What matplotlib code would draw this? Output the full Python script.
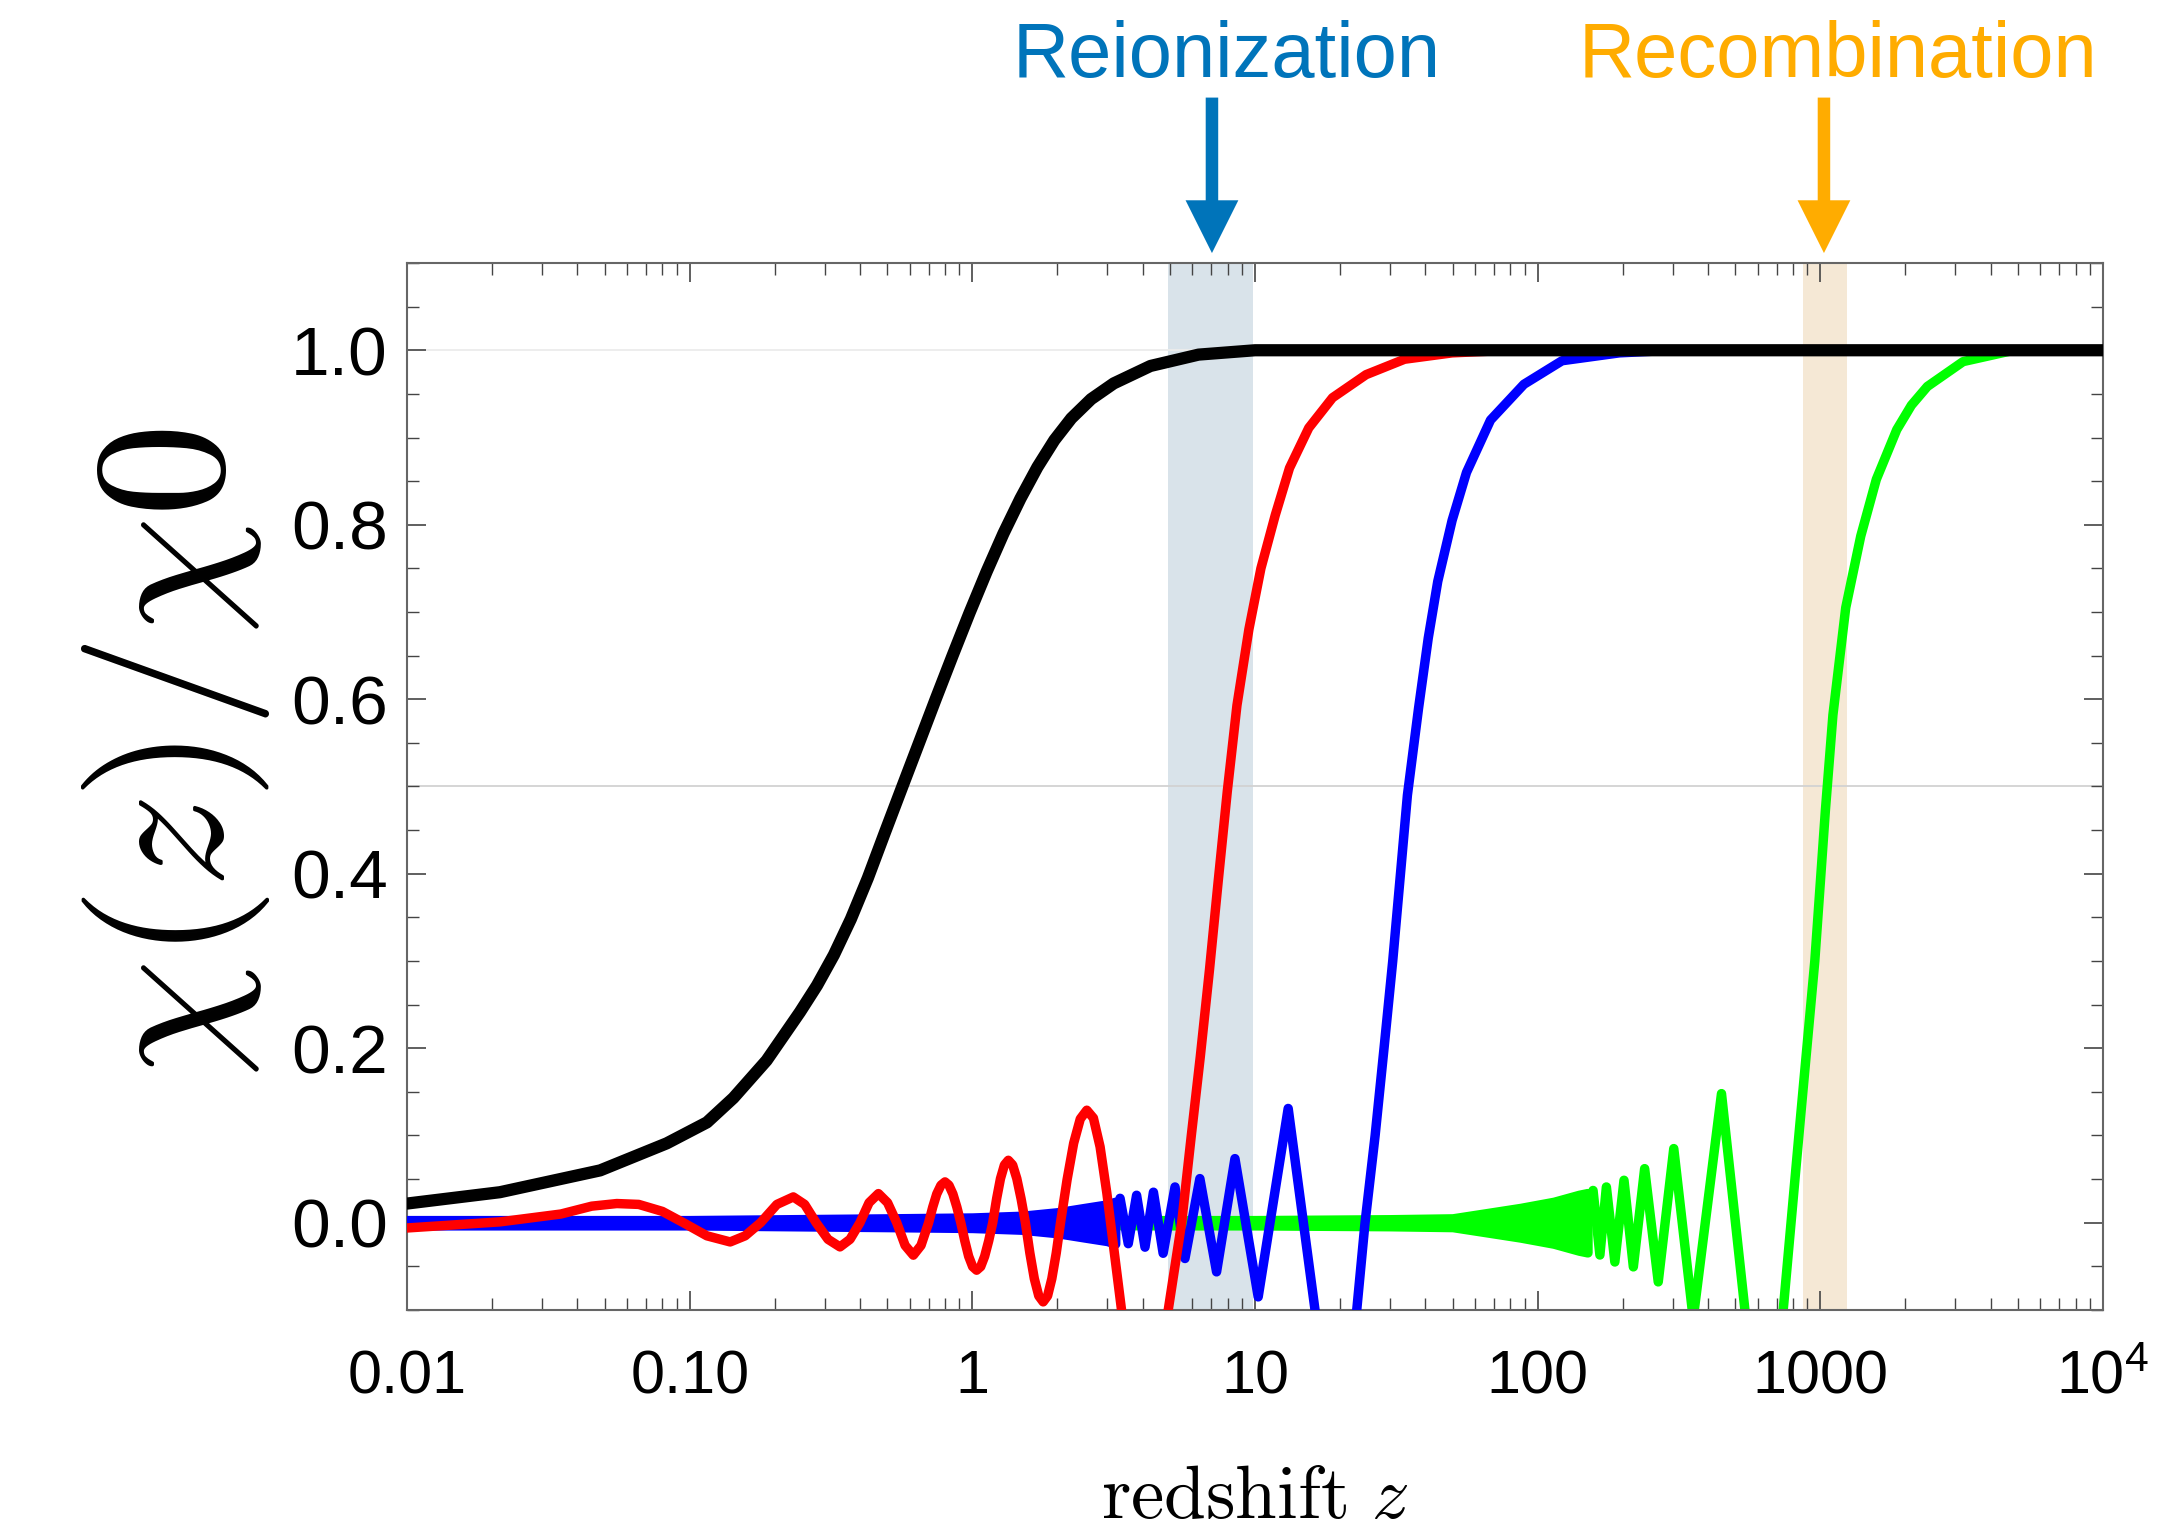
import matplotlib
matplotlib.use('Agg')
import matplotlib.pyplot as plt
from matplotlib.ticker import LogLocator, NullFormatter, MultipleLocator

plt.rcParams['font.family'] = ['Liberation Sans', 'DejaVu Sans']
plt.rcParams['mathtext.fontset'] = 'custom'
plt.rcParams['mathtext.rm'] = 'Liberation Sans'
plt.rcParams['mathtext.it'] = 'Liberation Sans:italic'

# --- values ---
# black curve
black_z = [0.01, 0.0213, 0.0482, 0.0829, 0.115, 0.1427, 0.187, 0.2455, 0.282, 0.3236, 0.3715,
           0.4266, 0.49, 0.5623, 0.6457, 0.7413, 0.851, 0.977, 1.122, 1.288, 1.479, 1.698,
           1.95, 2.239, 2.63, 3.162, 4.266, 6.31, 10, 1e4]
black_v = [0.022, 0.035, 0.060, 0.091, 0.115, 0.143, 0.186, 0.2415, 0.272, 0.307, 0.348,
           0.395, 0.447, 0.498, 0.549, 0.600, 0.650, 0.699, 0.746, 0.790, 0.830, 0.866,
           0.897, 0.922, 0.944, 0.962, 0.982, 0.995, 1.0, 1.0]

# red curve
red_z = [0.01, 0.0213, 0.035, 0.045, 0.0552, 0.066, 0.08, 0.095, 0.115, 0.139, 0.157, 0.178,
         0.2034, 0.2325, 0.255, 0.28, 0.3085, 0.340, 0.369, 0.40, 0.431, 0.465, 0.501, 0.54,
         0.578, 0.618, 0.658, 0.70, 0.724, 0.748, 0.774, 0.80, 0.826, 0.853, 0.881, 0.91,
         0.940, 0.970, 1.002, 1.035, 1.070, 1.105, 1.142, 1.18,
         1.218, 1.257, 1.298, 1.34, 1.388, 1.436, 1.487, 1.54,
         1.597, 1.656, 1.717, 1.78, 1.845, 1.910, 1.980, 2.05,
         2.163, 2.282, 2.408, 2.54, 2.68, 2.83, 2.99, 3.37,
         4.0, 4.5, 4.93, 5.5, 5.95, 6.4, 6.9, 7.4, 7.98, 8.63, 9.51, 10.49, 11.79, 13.24,
         15.49, 18.8, 24.7, 33.8, 49.8, 80, 1e4]
red_v = [-0.006, 0.001, 0.010, 0.019, 0.022, 0.021, 0.013, 0.0, -0.015, -0.022, -0.015, 0.0,
         0.021, 0.0296, 0.021, 0.0, -0.019, -0.0277, -0.019, 0.0, 0.023, 0.0334, 0.023, 0.0,
         -0.026, -0.0372, -0.026, 0.0, 0.018, 0.033, 0.043, 0.0468, 0.043, 0.033, 0.018, 0.0,
         -0.0208, -0.0385, -0.0503, -0.0544, -0.0503, -0.0385, -0.0208, 0.0,
         0.0274, 0.0506, 0.0662, 0.0716, 0.0662, 0.0506, 0.0274, 0.0,
         -0.0347, -0.0641, -0.0838, -0.0907, -0.0838, -0.0641, -0.0347, 0.0,
         0.0494, 0.0912, 0.119, 0.129, 0.12, 0.087, 0.034, -0.1,
         -0.25, -0.2, -0.1, 0.0, 0.10, 0.19, 0.29, 0.39, 0.495, 0.593, 0.68, 0.75, 0.811,
         0.865, 0.911, 0.9456, 0.972, 0.9897, 0.997, 1.0, 1.0]

# blue curve: unresolved fast wiggles (envelope), then resolved part
blue_band_z = [0.01, 0.1, 0.5, 1.0, 1.5, 2.0, 2.5, 3.0, 3.2]
blue_band_amp = [0.003, 0.003, 0.005, 0.006, 0.008, 0.012, 0.017, 0.021, 0.024]
blue_z = [3.15, 3.33, 3.56, 3.81, 4.08, 4.37, 4.73, 5.21, 5.65, 6.38, 7.31, 8.49, 10.26, 13.1,
          16.3, 19.5, 22.9, 24.5, 26.6, 28.6, 30.7, 32.7, 34.6, 37.9, 41.0, 44.3, 49.8, 56.0,
          68.1, 89.4, 122, 194.5, 300, 1e4]
blue_v = [-0.01, 0.028, -0.024, 0.0315, -0.028, 0.035, -0.035, 0.041, -0.041, 0.0506, -0.0563,
          0.0735, -0.085, 0.131, -0.1, -0.22, -0.1, 0.0, 0.1, 0.2, 0.30, 0.40, 0.49, 0.59,
          0.67, 0.735, 0.805, 0.86, 0.92, 0.961, 0.988, 0.997, 1.0, 1.0]

# green curve: envelope, then resolved part
green_band_z = [0.01, 1, 5, 10, 30, 50, 66, 87, 114, 140, 150]
green_band_amp = [0.002, 0.002, 0.003, 0.003, 0.004, 0.005, 0.011, 0.017, 0.024, 0.032, 0.034]
green_z = [148, 157, 166, 175, 187.5, 202, 218, 239, 267, 303, 355, 447, 541, 630, 739, 845,
           956, 1042, 1108, 1230, 1390, 1578, 1864, 2100, 2392, 3200, 4840, 1e4]
green_v = [0.0, 0.037, -0.037, 0.041, -0.045, 0.0487, -0.0506, 0.062, -0.0678, 0.085, -0.11,
           0.148, -0.1, -0.3, -0.1, 0.11, 0.30, 0.4725, 0.582, 0.705, 0.787, 0.852, 0.909,
           0.937, 0.9585, 0.987, 1.0, 1.0]

reion_band = (4.93, 9.86)
recomb_band = (870, 1240)

xtick_vals = [0.01, 0.1, 1, 10, 100, 1000, 1e4]
xtick_labels = ['0.01', '0.10', '1', '10', '100', '1000', r'$10^4$']
ytick_vals = [0.0, 0.2, 0.4, 0.6, 0.8, 1.0]
ytick_labels = ['0.0', '0.2', '0.4', '0.6', '0.8', '1.0']

reion_col = '#0074BA'
recomb_col = '#FFAC00'

fig = plt.figure(figsize=(21.62, 15.30), dpi=100)
ax = fig.add_axes([0.1883, 0.1438, 0.7844, 0.6843])

ax.axvspan(*reion_band, color='#d9e3ea', lw=0, zorder=0)
ax.axvspan(*recomb_band, color='#f5e8d5', lw=0, zorder=0)
ax.axhline(0.5, color='#d2d2d2', lw=1.3, zorder=1)
ax.axhline(1.0, color='#ececec', lw=1.3, zorder=1)

lw = 6.8
# green
ax.fill_between(green_band_z, [-a for a in green_band_amp], green_band_amp,
                color='#00ff00', ec='#00ff00', lw=lw, zorder=2)
ax.plot(green_z, green_v, color='#00ff00', lw=lw, solid_joinstyle='round',
        solid_capstyle='round', zorder=2)
# blue
ax.fill_between(blue_band_z, [-a for a in blue_band_amp], blue_band_amp,
                color='#0000ff', ec='#0000ff', lw=lw, zorder=3)
ax.plot(blue_z, blue_v, color='#0000ff', lw=lw, solid_joinstyle='round',
        solid_capstyle='round', zorder=3)
# red
ax.plot(red_z, red_v, color='#ff0000', lw=lw, solid_joinstyle='round',
        solid_capstyle='round', zorder=4)
# black
ax.plot(black_z, black_v, color='black', lw=8.8, solid_joinstyle='round',
        solid_capstyle='round', zorder=5)

ax.set_xscale('log')
ax.set_xlim(0.01, 1e4)
ax.set_ylim(-0.1, 1.1)

ax.set_xticks(xtick_vals)
ax.set_xticklabels(xtick_labels, fontsize=44)
ax.xaxis.set_minor_locator(LogLocator(base=10, subs=range(2, 10), numticks=50))
ax.xaxis.set_minor_formatter(NullFormatter())
ax.set_yticks(ytick_vals)
ax.set_yticklabels(ytick_labels, fontsize=50)
ax.yaxis.set_minor_locator(MultipleLocator(0.05))

ax.tick_params(which='both', direction='in', top=True, right=True, color='#444444')
ax.tick_params(which='major', length=14, width=1.2)
ax.tick_params(which='minor', length=8.5, width=1.0)
ax.tick_params(axis='x', which='major', pad=60)
ax.tick_params(axis='y', which='major', pad=14)
for lab in ax.get_xticklabels():
    lab.set_va('baseline')

for sp in ax.spines.values():
    sp.set_color('#666666')
    sp.set_linewidth(1.5)

ax.set_xlabel(r'$\mathrm{redshift}\ z$', fontsize=54, math_fontfamily='cm', va='top')
ax.xaxis.set_label_coords(0.5, -0.147)
fig.text(176 / 2162, 1 - 752 / 1530, r'$\chi(z)/\chi0$', rotation=90, ha='center',
         va='center', fontsize=135, math_fontfamily='cm')

# annotations above the plot
for zpos, col in [(7.04, reion_col), (1030, recomb_col)]:
    ax.annotate('', xy=(zpos, 1.0095), xycoords=('data', 'axes fraction'),
                xytext=(zpos, 1.158), textcoords=('data', 'axes fraction'),
                arrowprops=dict(arrowstyle='simple,head_length=38,head_width=38,tail_width=9',
                                mutation_scale=1, color=col, lw=0, shrinkA=0, shrinkB=0),
                annotation_clip=False)
fig.text(0.5675, 0.9497, 'Reionization', ha='center', va='baseline', fontsize=56, color=reion_col)
fig.text(0.8501, 0.9497, 'Recombination', ha='center', va='baseline', fontsize=56, color=recomb_col)

fig.savefig('out.png', dpi=100)
